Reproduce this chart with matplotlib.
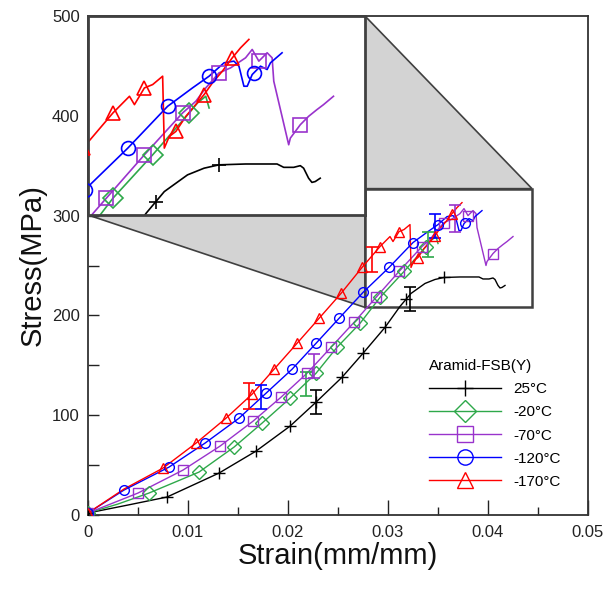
import matplotlib
matplotlib.use('Agg')
import matplotlib.pyplot as plt
from matplotlib.patches import Polygon, Rectangle
from matplotlib.lines import Line2D
from matplotlib.ticker import MultipleLocator

plt.rcParams['font.family'] = ['Liberation Sans', 'DejaVu Sans']

# 25°C
strain_25 = [0, 0.0040, 0.0079, 0.0131, 0.0168, 0.0202, 0.0228, 0.0254, 0.0275, 0.0297, 0.0312,
             0.0323, 0.0337, 0.0347, 0.0356, 0.0372, 0.0391, 0.0395, 0.0401, 0.0405, 0.0407,
             0.0410, 0.0412, 0.0414, 0.0417]
stress_25 = [2, 10, 18, 42, 64, 89, 113, 138, 162, 188, 209,
             222, 232, 236, 238, 238.5, 238.5, 236.5, 236.5, 237.5, 236,
             230, 227.5, 228, 230]
mk_strain_25 = [0, 0.0079, 0.0131, 0.0168, 0.0202, 0.0228, 0.0254, 0.0275, 0.0297, 0.0318, 0.0356]
mk_stress_25 = [2, 18, 42, 64, 89, 113, 138, 162, 188, 216, 238]
err_strain_25 = [0.0228, 0.0322]
err_stress_25 = [113, 216]
err_size_25 = [12, 12]

# -20°C
strain_m20 = [0, 0.0030, 0.0061, 0.0111, 0.0146, 0.0174, 0.0202, 0.0228, 0.0249, 0.0272, 0.0292,
              0.0316, 0.0338, 0.0343, 0.0348, 0.0350]
stress_m20 = [2, 11, 22, 43, 68, 92, 117, 142, 168, 192, 218,
              244, 269, 275, 279, 272]
mk_strain_m20 = [0, 0.0061, 0.0111, 0.0146, 0.0174, 0.0202, 0.0228, 0.0249, 0.0272, 0.0292, 0.0316, 0.0338]
mk_stress_m20 = [2, 22, 43, 68, 92, 117, 142, 168, 192, 218, 244, 269]
err_strain_m20 = [0.0218, 0.0340]
err_stress_m20 = [131, 271]
err_size_m20 = [12, 12.5]

# -70°C
strain_m70 = [0, 0.0025, 0.0050, 0.0095, 0.0132, 0.0165, 0.0193, 0.0219, 0.0243, 0.0266, 0.0288,
              0.0311, 0.0334, 0.0342, 0.0348, 0.0356, 0.0363, 0.0369, 0.0372, 0.0376, 0.0380,
              0.0385, 0.0388, 0.0389, 0.0398, 0.0399, 0.0405, 0.0410, 0.0415, 0.0419, 0.0425]
stress_m70 = [2, 12, 22, 45, 69, 94, 118, 142, 168, 193, 218,
              244, 269, 276, 284, 293, 296, 300, 302, 307, 300,
              305, 302, 288, 250, 254, 262, 267, 271, 274, 279]
mk_strain_m70 = [0, 0.0050, 0.0095, 0.0132, 0.0165, 0.0193, 0.0219, 0.0243, 0.0266, 0.0288, 0.0311,
                 0.0334, 0.0356, 0.0380, 0.0405]
mk_stress_m70 = [2, 22, 45, 69, 94, 118, 142, 168, 193, 218, 244, 269, 293, 300, 262]
err_strain_m70 = [0.0226, 0.0367]
err_stress_m70 = [149, 297]
err_size_m70 = [12, 13.5]

# -120°C
strain_m120 = [0, 0.0036, 0.0081, 0.0117, 0.0151, 0.0178, 0.0204, 0.0228, 0.0251, 0.0275, 0.0301,
               0.0325, 0.0340, 0.0350, 0.0359, 0.0365, 0.0368, 0.0371, 0.0373, 0.0376, 0.0381,
               0.0385, 0.0387, 0.0394]
stress_m120 = [2, 25, 48, 72, 97, 122, 146, 172, 197, 223, 248,
               273, 284, 291, 299, 300, 297, 285, 285, 292, 297,
               295, 299, 305]
mk_strain_m120 = [0, 0.0036, 0.0081, 0.0117, 0.0151, 0.0178, 0.0204, 0.0228, 0.0251, 0.0275, 0.0301,
                  0.0325, 0.0350, 0.0377]
mk_stress_m120 = [2, 25, 48, 72, 97, 122, 146, 172, 197, 223, 248, 273, 291, 293]
err_strain_m120 = [0.0173, 0.0347]
err_stress_m120 = [118, 290]
err_size_m120 = [12, 12]

# -170°C
strain_m170 = [0, 0.0036, 0.0075, 0.0108, 0.0138, 0.0164, 0.0186, 0.0209, 0.0231, 0.0253, 0.0274,
               0.0292, 0.0302, 0.0305, 0.0311, 0.0316, 0.0322, 0.0323, 0.0326, 0.0330, 0.0336,
               0.0347, 0.0352, 0.0358, 0.0364, 0.0369, 0.0374]
stress_m170 = [2, 26, 47, 72, 97, 121, 146, 172, 197, 222, 248,
               269, 279, 274, 284, 286, 291, 248, 255, 258, 267,
               280, 287, 294, 302, 308, 313]
mk_strain_m170 = [0, 0.0075, 0.0108, 0.0138, 0.0164, 0.0186, 0.0209, 0.0231, 0.0253, 0.0274, 0.0292,
                  0.0311, 0.0330, 0.0347, 0.0364]
mk_stress_m170 = [2, 47, 72, 97, 121, 146, 172, 197, 222, 248, 269, 284, 258, 280, 302]
err_strain_m170 = [0.0161, 0.0284]
err_stress_m170 = [119, 256]
err_size_m170 = [13, 12.5]

labels = ['25°C', '-20°C', '-70°C', '-120°C', '-170°C']
colors = ['black', '#2ea84a', '#9933cc', '#0000ff', '#ff0000']
markers = ['+', 'D', 's', 'o', '^']

series = [
    (strain_25, stress_25, mk_strain_25, mk_stress_25, err_strain_25, err_stress_25, err_size_25),
    (strain_m20, stress_m20, mk_strain_m20, mk_stress_m20, err_strain_m20, err_stress_m20, err_size_m20),
    (strain_m70, stress_m70, mk_strain_m70, mk_stress_m70, err_strain_m70, err_stress_m70, err_size_m70),
    (strain_m120, stress_m120, mk_strain_m120, mk_stress_m120, err_strain_m120, err_stress_m120, err_size_m120),
    (strain_m170, stress_m170, mk_strain_m170, mk_stress_m170, err_strain_m170, err_stress_m170, err_size_m170),
]

# zoom window
zx0, zx1 = 0.0277, 0.0444
zy0, zy1 = 208, 327

fig = plt.figure(figsize=(6.12, 5.89), dpi=100)
ax = fig.add_axes([88 / 612, 74 / 589, 500 / 612, 499 / 589])

for (x, y, mx, my, ex, ey, ee), c, m in zip(series, colors, markers):
    ax.plot(x, y, color=c, lw=1.0, zorder=2)
    ms = 8 if m == '+' else 7
    ax.plot(mx, my, ls='none', marker=m, ms=ms, mfc='none', mec=c, mew=1.0, zorder=3)
    ax.errorbar(ex, ey, yerr=ee, fmt='none', ecolor=c, elinewidth=1.2, capsize=4.5,
                capthick=1.2, zorder=3)

ax.set_xlim(0, 0.05)
ax.set_ylim(0, 500)
ax.set_xticks([0, 0.01, 0.02, 0.03, 0.04, 0.05])
ax.set_xticklabels(['0', '0.01', '0.02', '0.03', '0.04', '0.05'])
ax.set_yticks([0, 100, 200, 300, 400, 500])
ax.xaxis.set_minor_locator(MultipleLocator(0.005))
ax.yaxis.set_minor_locator(MultipleLocator(50))
ax.tick_params(which='both', direction='in', top=False, right=False,
               labelsize=12, labelcolor='#222222', color='#222222', width=1.0)
ax.tick_params(axis='x', which='major', length=11, pad=7)
ax.tick_params(axis='x', which='minor', length=5.5)
ax.tick_params(axis='y', which='major', length=8, pad=6)
ax.tick_params(axis='y', which='minor', length=8)
for s in ax.spines.values():
    s.set_color('#333333')
    s.set_linewidth(1.3)
ax.set_xlabel('Strain(mm/mm)', fontsize=21, labelpad=2, color='#111111')
ax.set_ylabel('Stress(MPa)', fontsize=21, labelpad=4, color='#111111')

# inset
ax_in = fig.add_axes([88 / 612, 374 / 589, 277 / 612, 199 / 589])
for (x, y, mx, my, ex, ey, ee), c, m in zip(series, colors, markers):
    ax_in.plot(x, y, color=c, lw=1.2, zorder=2)
    ax_in.plot(mx, my, ls='none', marker=m, ms=10, mfc='none', mec=c, mew=1.2, zorder=3)
ax_in.set_xlim(zx0, zx1)
ax_in.set_ylim(zy0, zy1)
ax_in.set_xticks([])
ax_in.set_yticks([])
for s in ax_in.spines.values():
    s.set_color('#404040')
    s.set_linewidth(2.0)

# zoom box and connectors
ax.add_patch(Rectangle((zx0, zy0), zx1 - zx0, zy1 - zy0, fill=False, ec='#404040', lw=1.8, zorder=1.5))


def inset_corner(pt):
    return ax.transData.inverted().transform(ax_in.transAxes.transform(pt))


top_tri = [inset_corner((1, 1)), (zx1, zy1), (zx0, zy1)]
bot_tri = [inset_corner((0, 0)), (zx0, zy0), inset_corner((1, 0))]
for tri in (top_tri, bot_tri):
    ax.add_patch(Polygon(tri, closed=True, fc='#d3d3d3', ec='#404040', lw=1.2,
                         zorder=1, clip_on=False))

handles = [Line2D([], [], color=c, marker=m, ms=11, mfc='none', mec=c, mew=1.0, lw=1.0)
           for c, m in zip(colors, markers)]
ax.legend(handles, labels, title='Aramid-FSB(Y)', loc='upper left',
          bbox_to_anchor=(429 / 612, 1 - 359 / 589), bbox_transform=fig.transFigure,
          frameon=False, fontsize=11, title_fontsize=11, handlelength=4.7,
          handletextpad=0.8, labelspacing=0.6, borderpad=0, borderaxespad=0,
          alignment='left')

fig.savefig('out.png', dpi=100)
